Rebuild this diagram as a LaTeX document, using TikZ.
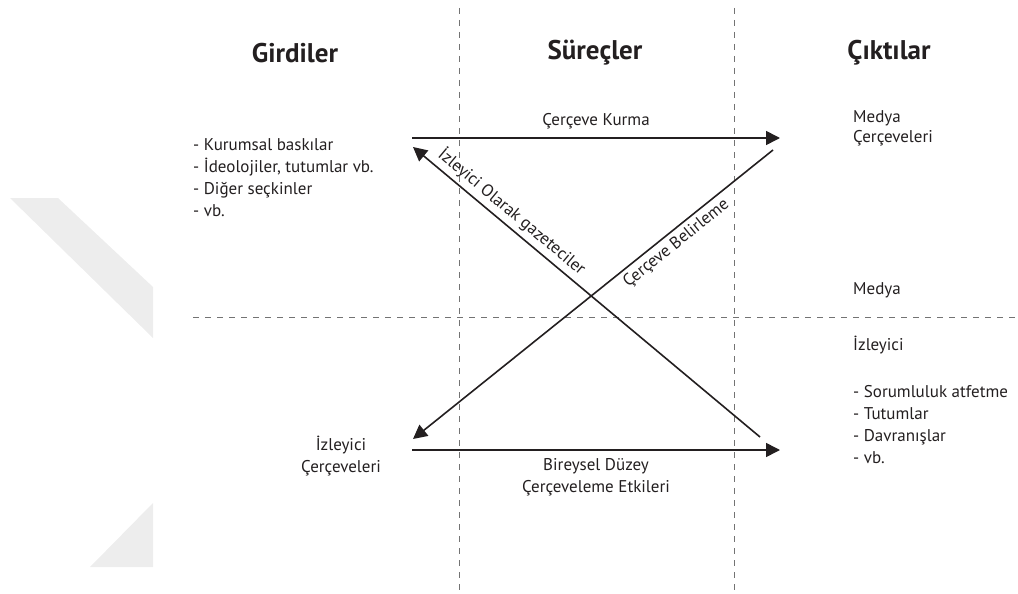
\documentclass[tikz,border=0pt]{standalone}
\usepackage{fontspec}
\setmainfont{PT Sans}
\usetikzlibrary{arrows.meta}
\definecolor{ink}{HTML}{231F20}

\begin{document}
\begin{tikzpicture}[x=1pt, y=-1pt,
    baslik/.style={font=\fontsize{27}{30}\selectfont\bfseries, text=ink, inner sep=0pt},
    metin/.style={font=\fontsize{17}{22}\selectfont, text=ink, inner sep=0pt, align=left},
    ok/.style={draw=ink, line width=1.6pt, -{Triangle[length=14pt, width=14pt]}},
    ayrac/.style={draw=black!55, line width=0.8pt, dash pattern=on 6pt off 6pt}]
    \useasboundingbox (0,0) rectangle (1018,594);

    \fill [black!7] (10,198) -- (58,198) -- (153,287) -- (153,338) -- cycle;
    \fill [black!7] (90,567) -- (153,503) -- (153,567) -- cycle;

    \draw [ayrac] (459,8) -- (459,594);
    \draw [ayrac] (734,8) -- (734,594);
    \draw [ayrac] (193,317) -- (1018,317);

    \node [baslik] (girdiler) at (295,53) {Girdiler};
    \node [baslik] (surecler) at (595,53) {Süreçler};
    \node [baslik] (ciktilar) at (889,53) {Çıktılar};

    \node [metin, anchor=west] (baskilar) at (193,178) {- Kurumsal baskılar\\- İdeolojiler, tutumlar vb.\\- Diğer seçkinler\\- vb.};
    \node [metin, anchor=west, font=\fontsize{17}{20}\selectfont] (medyaCerceve) at (853,128) {Medya\\Çerçeveleri};
    \node [metin, anchor=west] (medya) at (853,290) {Medya};
    \node [metin, anchor=west] (izleyici) at (853,345) {İzleyici};
    \node [metin, anchor=west] (etkiler) at (853,425) {- Sorumluluk atfetme\\- Tutumlar\\- Davranışlar\\- vb.};
    \node [metin, align=center] (izleyiciCerceve) at (341,456) {İzleyici\\Çerçeveleri};

    \coordinate (kurmaBas) at (412,138);
    \coordinate (kurmaSon) at (780,138);
    \coordinate (bireyBas) at (412,450);
    \coordinate (bireySon) at (780,450);
    \coordinate (gazeteBas) at (760,437);
    \coordinate (gazeteSon) at (413,147);
    \coordinate (belirleBas) at (773,150);
    \coordinate (belirleSon) at (413,439);

    \draw [ok] (kurmaBas) -- node [metin, above=8pt] (kurma) {Çerçeve Kurma} (kurmaSon);
    \draw [ok] (bireyBas) -- node [metin, align=center, below=8pt] (bireysel) {Bireysel Düzey\\Çerçeveleme Etkileri} (bireySon);
    \draw [ok] (gazeteBas) -- node [metin, sloped, above=4pt, pos=.74] (gazeteci) {İzleyici Olarak gazeteciler} (gazeteSon);
    \draw [ok] (belirleBas) -- node [metin, sloped, below=4pt, pos=.29] (belirleme) {Çerçeve Belirleme} (belirleSon);
\end{tikzpicture}
\end{document}
